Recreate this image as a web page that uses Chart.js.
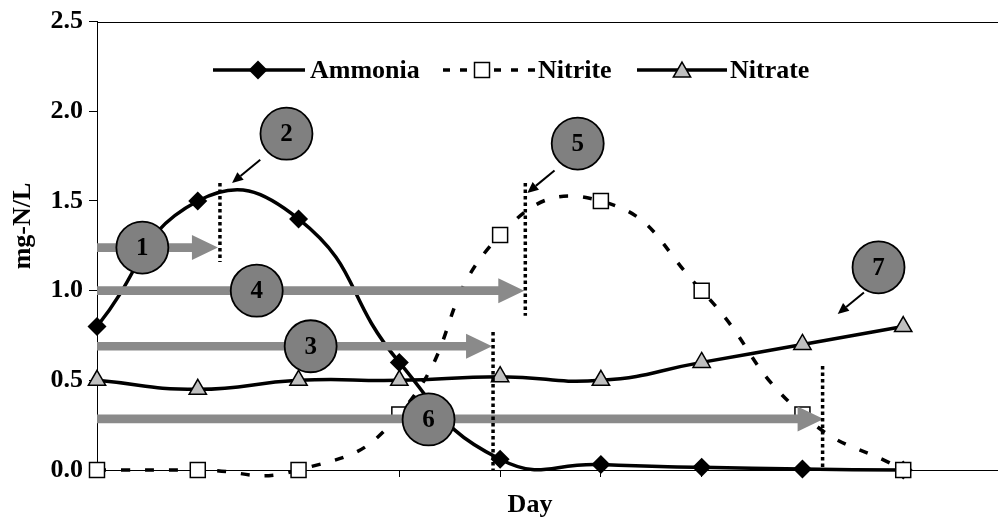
<!DOCTYPE html>
<html>
<head>
<meta charset="utf-8">
<script src="https://cdn.jsdelivr.net/npm/chart.js@4.4.1/dist/chart.umd.min.js"></script>
<style>
  html, body { margin: 0; padding: 0; background: #fff; overflow: hidden; }
  #wrap { position: relative; width: 1007px; height: 519px; }
</style>
</head>
<body>
<div id="wrap"><canvas id="c" width="1007" height="519"></canvas></div>
<script>
// Sampling days (index along the x axis)
const days = [0, 1, 2, 3, 4, 5, 6, 7, 8];

// Concentrations, mg-N/L
const ammonia = [0.8, 1.5, 1.4, 0.6, 0.06, 0.03, 0.015, 0.005, 0];
const nitrite = [0, 0, 0, 0.31, 1.31, 1.5, 1.0, 0.31, 0];
const nitrate = [0.5, 0.45, 0.5, 0.5, 0.52, 0.5, 0.6, 0.7, 0.8];

// Value axis
const yMin = 0, yMax = 2.5, yStep = 0.5;

// Phase markers, in data units (day, mg-N/L)
const phaseArrows = [            // grey horizontal arrows starting at day 0
  { y: 1.24, to: 1.2 },
  { y: 1.0,  to: 4.24 },
  { y: 0.69, to: 3.92 },
  { y: 0.285, to: 7.21 }
];
const phaseLimits = [            // dotted vertical lines
  { x: 1.22, from: 1.16, to: 1.6 },
  { x: 4.25, from: 0.86, to: 1.6 },
  { x: 3.93, from: 0.0,  to: 0.77 },
  { x: 7.2,  from: 0.0,  to: 0.58 }
];
const phaseBadges = [            // numbered discs
  { label: '1', x: 0.45,  y: 1.24 },
  { label: '2', x: 1.88,  y: 1.875 },
  { label: '4', x: 1.585, y: 1.0 },
  { label: '3', x: 2.12,  y: 0.69 },
  { label: '5', x: 4.77,  y: 1.82 },
  { label: '6', x: 3.29,  y: 0.282 },
  { label: '7', x: 7.755, y: 1.13 }
];
const pointers = [               // small black arrows from discs
  { x0: 1.62, y0: 1.73, x1: 1.34, y1: 1.6 },
  { x0: 4.54, y0: 1.67, x1: 4.27, y1: 1.545 },
  { x0: 7.61, y0: 0.99, x1: 7.35, y1: 0.87 }
];

const SERIF = "'Liberation Serif', 'Times New Roman', serif";

function pts(values) {
  return days.map((d, i) => ({ x: d, y: values[i] }));
}

function drawDiamond(ctx, x, y, r) {
  ctx.beginPath();
  ctx.moveTo(x, y - r); ctx.lineTo(x + r, y); ctx.lineTo(x, y + r); ctx.lineTo(x - r, y);
  ctx.closePath();
  ctx.fillStyle = '#000'; ctx.fill();
}
function drawSquare(ctx, x, y, s) {
  ctx.fillStyle = '#fff';
  ctx.fillRect(x - s / 2, y - s / 2, s, s);
  ctx.lineWidth = 1.5; ctx.strokeStyle = '#000'; ctx.setLineDash([]);
  ctx.strokeRect(x - s / 2, y - s / 2, s, s);
}
function drawTriangle(ctx, x, y, r) {
  ctx.beginPath();
  for (let k = 0; k < 3; k++) {
    const a = k * 2 * Math.PI / 3;
    const px = x + Math.sin(a) * r, py = y - Math.cos(a) * r;
    if (k === 0) ctx.moveTo(px, py); else ctx.lineTo(px, py);
  }
  ctx.closePath();
  ctx.fillStyle = '#c0c0c0'; ctx.fill();
  ctx.lineWidth = 1.5; ctx.strokeStyle = '#000'; ctx.setLineDash([]); ctx.stroke();
}

const overlay = {
  id: 'overlay',
  afterDatasetsDraw(chart) {
    const ctx = chart.ctx;
    const xs = chart.scales.x, ys = chart.scales.y;
    const area = chart.chartArea;
    ctx.save();

    // top frame line
    ctx.strokeStyle = '#000'; ctx.lineWidth = 1; ctx.setLineDash([]);
    ctx.beginPath();
    ctx.moveTo(area.left, Math.round(area.top) + 0.5);
    ctx.lineTo(chart.width, Math.round(area.top) + 0.5);
    ctx.stroke();

    // grey arrows
    ctx.fillStyle = '#8a8a8a';
    phaseArrows.forEach(a => {
      const x0 = xs.getPixelForValue(0), x1 = xs.getPixelForValue(a.to);
      const y = ys.getPixelForValue(a.y);
      const head = 26, half = 12.5, shaft = 4.3;
      ctx.beginPath();
      ctx.moveTo(x0, y - shaft);
      ctx.lineTo(x1 - head, y - shaft);
      ctx.lineTo(x1 - head, y - half);
      ctx.lineTo(x1, y);
      ctx.lineTo(x1 - head, y + half);
      ctx.lineTo(x1 - head, y + shaft);
      ctx.lineTo(x0, y + shaft);
      ctx.closePath();
      ctx.fill();
    });

    // dotted limits
    ctx.strokeStyle = '#000'; ctx.lineWidth = 3.5; ctx.setLineDash([3.5, 3]);
    phaseLimits.forEach(l => {
      const x = xs.getPixelForValue(l.x);
      ctx.beginPath();
      ctx.moveTo(x, ys.getPixelForValue(l.to));
      ctx.lineTo(x, ys.getPixelForValue(l.from));
      ctx.stroke();
    });
    ctx.setLineDash([]);

    // numbered discs
    phaseBadges.forEach(b => {
      const x = xs.getPixelForValue(b.x), y = ys.getPixelForValue(b.y);
      ctx.beginPath();
      ctx.arc(x, y, 26, 0, Math.PI * 2);
      ctx.fillStyle = '#808080'; ctx.fill();
      ctx.lineWidth = 1.8; ctx.strokeStyle = '#000'; ctx.stroke();
      ctx.fillStyle = '#000';
      ctx.font = 'bold 25px ' + SERIF;
      ctx.textAlign = 'center'; ctx.textBaseline = 'middle';
      ctx.fillText(b.label, x, y + 1);
    });

    // black pointers
    pointers.forEach(p => {
      const x0 = xs.getPixelForValue(p.x0), y0 = ys.getPixelForValue(p.y0);
      const x1 = xs.getPixelForValue(p.x1), y1 = ys.getPixelForValue(p.y1);
      const ang = Math.atan2(y1 - y0, x1 - x0);
      const hl = 11, hw = 5;
      const bx = x1 - Math.cos(ang) * hl, by = y1 - Math.sin(ang) * hl;
      ctx.strokeStyle = '#000'; ctx.lineWidth = 2;
      ctx.beginPath(); ctx.moveTo(x0, y0); ctx.lineTo(bx, by); ctx.stroke();
      ctx.beginPath();
      ctx.moveTo(x1, y1);
      ctx.lineTo(bx + Math.sin(ang) * hw, by - Math.cos(ang) * hw);
      ctx.lineTo(bx - Math.sin(ang) * hw, by + Math.cos(ang) * hw);
      ctx.closePath(); ctx.fillStyle = '#000'; ctx.fill();
    });

    // legend
    const ly = 70;
    ctx.font = 'bold 26px ' + SERIF;
    ctx.textAlign = 'left'; ctx.textBaseline = 'middle'; ctx.fillStyle = '#000';
    ctx.strokeStyle = '#000'; ctx.lineWidth = 3.5;
    ctx.beginPath(); ctx.moveTo(213, ly); ctx.lineTo(305, ly); ctx.stroke();
    drawDiamond(ctx, 258, ly, 9.5);
    ctx.fillStyle = '#000'; ctx.fillText('Ammonia', 310, ly + 1);

    ctx.strokeStyle = '#000'; ctx.lineWidth = 3.5; ctx.setLineDash([7, 10]);
    ctx.beginPath(); ctx.moveTo(443, ly); ctx.lineTo(535, ly); ctx.stroke();
    ctx.setLineDash([]);
    drawSquare(ctx, 482, ly, 15);
    ctx.fillStyle = '#000'; ctx.fillText('Nitrite', 538, ly + 1);

    ctx.strokeStyle = '#000'; ctx.lineWidth = 3.5;
    ctx.beginPath(); ctx.moveTo(637, ly); ctx.lineTo(727, ly); ctx.stroke();
    drawTriangle(ctx, 682, ly + 2, 10);
    ctx.fillStyle = '#000'; ctx.fillText('Nitrate', 730, ly + 1);

    // axis titles
    ctx.font = 'bold 26px ' + SERIF;
    ctx.textAlign = 'center'; ctx.textBaseline = 'middle';
    ctx.fillText('Day', 530, 505);
    ctx.save();
    ctx.translate(23, 226);
    ctx.rotate(-Math.PI / 2);
    ctx.fillText('mg-N/L', 0, 0);
    ctx.restore();

    ctx.restore();
  }
};

const common = {
  borderColor: '#000',
  borderWidth: 3.5,
  tension: 0.5,
  clip: false,
  pointBorderColor: '#000',
  pointBorderWidth: 1.5
};

new Chart(document.getElementById('c'), {
  type: 'line',
  data: {
    datasets: [
      Object.assign({}, common, {
        label: 'Nitrite', data: pts(nitrite), order: 0,
        borderDash: [9, 15],
        pointStyle: 'rect', pointRadius: 10.6,
        pointBackgroundColor: '#fff'
      }),
      Object.assign({}, common, {
        label: 'Ammonia', data: pts(ammonia), order: 1,
        pointStyle: 'rectRot', pointRadius: 9.5,
        pointBackgroundColor: '#000', pointBorderWidth: 0
      }),
      Object.assign({}, common, {
        label: 'Nitrate', data: pts(nitrate), order: 2,
        pointStyle: 'triangle', pointRadius: 10,
        pointBackgroundColor: '#c0c0c0'
      })
    ]
  },
  options: {
    responsive: false,
    animation: false,
    devicePixelRatio: 1,
    layout: { autoPadding: false, padding: { top: 20, right: 0, bottom: 0, left: 0 } },
    elements: { line: { capBezierPoints: false } },
    plugins: { legend: { display: false }, tooltip: { enabled: false } },
    scales: {
      x: {
        type: 'linear', min: 0, max: 9,
        ticks: { stepSize: 1, callback: () => '', font: { size: 1 } },
        grid: { drawOnChartArea: false, tickLength: 7, color: '#000', lineWidth: 1 },
        border: { color: '#000', width: 1 },
        afterFit: s => { s.height = 49; }
      },
      y: {
        min: yMin, max: yMax,
        ticks: {
          stepSize: yStep, color: '#000', padding: 6,
          font: { family: SERIF, size: 26, weight: 'bold' },
          callback: v => Number(v).toFixed(1)
        },
        grid: { drawOnChartArea: false, tickLength: 8, color: '#000', lineWidth: 1 },
        border: { color: '#000', width: 1 },
        afterFit: s => { s.width = 97; }
      }
    }
  },
  plugins: [overlay]
});
</script>
</body>
</html>
